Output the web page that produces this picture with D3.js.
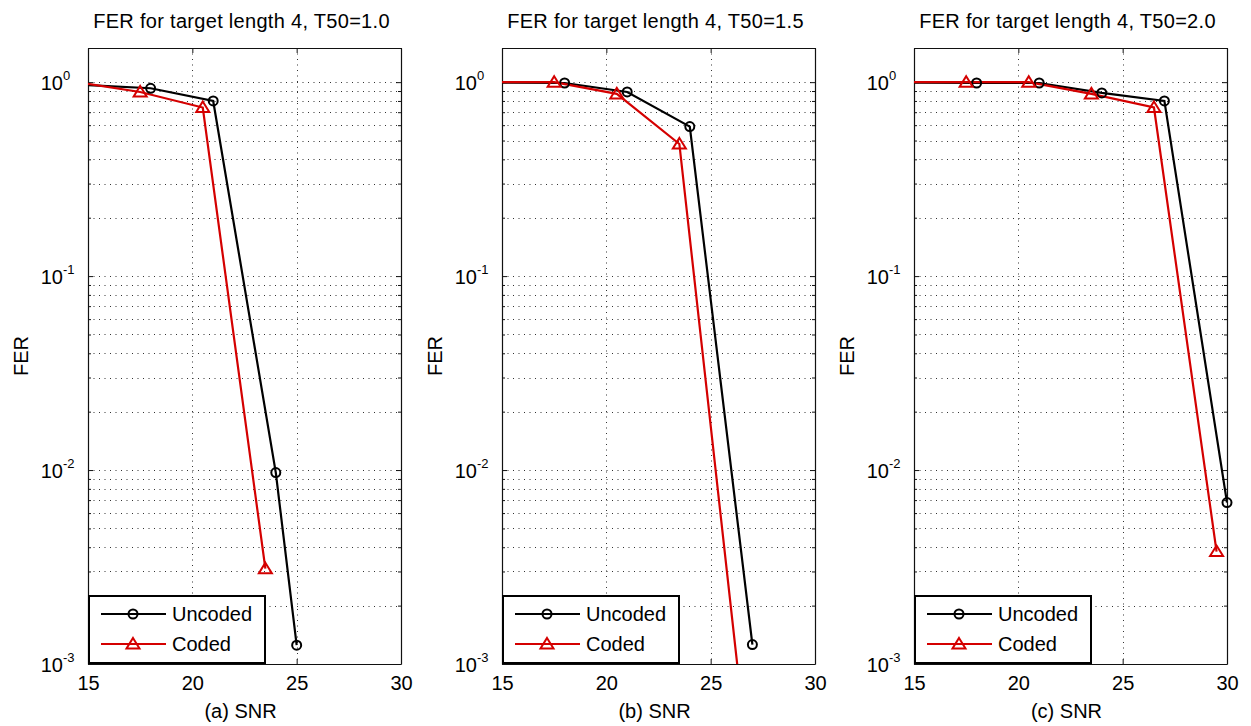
<!DOCTYPE html>
<html><head><meta charset="utf-8">
<script src="https://cdn.jsdelivr.net/npm/d3@7"></script>
<style>
body{margin:0;background:#fff}
svg{display:block;background:#fff}
text{font-family:"Liberation Sans",Arial,Helvetica,sans-serif;fill:#000}
</style>
</head><body>
<svg id="chart" width="1251" height="726"></svg>
<script>
// ---- data ----
const snrTicks = [15, 20, 25, 30];
const ferDecades = [0, -1, -2, -3];
const panelTitles = ["FER for target length 4, T50=1.0", "FER for target length 4, T50=1.5", "FER for target length 4, T50=2.0"];
const panelXLabels = ["(a) SNR", "(b) SNR", "(c) SNR"];
const yLabel = "FER";
const seriesNames = ["Uncoded", "Coded"];

const uncodedSNR_a = [12, 18, 21, 24, 25];
const uncodedFER_a = [1.0, 0.93, 0.80, 0.0097, 0.00125];
const codedSNR_a   = [14.5, 17.5, 20.5, 23.5];
const codedFER_a   = [1.0, 0.89, 0.74, 0.0031];

const uncodedSNR_b = [12, 18, 21, 24, 27];
const uncodedFER_b = [1.0, 0.99, 0.89, 0.59, 0.00126];
const codedSNR_b   = [14.5, 17.5, 20.5, 23.5, 26.5];
const codedFER_b   = [1.0, 1.0, 0.87, 0.48, 0.0006];

const uncodedSNR_c = [12, 18, 21, 24, 27, 30];
const uncodedFER_c = [1.0, 0.99, 0.99, 0.88, 0.80, 0.0068];
const codedSNR_c   = [14.5, 17.5, 20.5, 23.5, 26.5, 29.5];
const codedFER_c   = [1.0, 1.0, 1.0, 0.87, 0.74, 0.0038];

const xDomain = [15, 30];
const yDomain = [1e-3, 1.5];

// ---- layout ----
const svg = d3.select("#chart");
const plotTop = 48, plotBottom = 664;
const panelLefts = [88, 502, 914];
const panelWidth = 313;
const RED = "#d40000";

const panels = [
  {unc: d3.zip(uncodedSNR_a, uncodedFER_a), cod: d3.zip(codedSNR_a, codedFER_a)},
  {unc: d3.zip(uncodedSNR_b, uncodedFER_b), cod: d3.zip(codedSNR_b, codedFER_b)},
  {unc: d3.zip(uncodedSNR_c, uncodedFER_c), cod: d3.zip(codedSNR_c, codedFER_c)}
];

// minor/major log gridline values
const logVals = [];
for (let k = -3; k <= 0; k++) {
  for (let m = 1; m <= 9; m++) {
    const v = m * Math.pow(10, k);
    if (v >= yDomain[0] && v <= yDomain[1] + 1e-12) logVals.push(+v.toPrecision(6));
  }
}
const majorSet = new Set(ferDecades.map(e => +Math.pow(10, e).toPrecision(6)));

const triPath = "M0,-6L6.5,4.5L-6.5,4.5Z";

panels.forEach((p, i) => {
  const L = panelLefts[i], R = L + panelWidth;
  const x = d3.scaleLinear().domain(xDomain).range([L, R]);
  const y = d3.scaleLog().domain(yDomain).range([plotBottom, plotTop]);
  const g = svg.append("g");

  // clip
  svg.append("clipPath").attr("id", "clip" + i)
    .append("rect").attr("x", L).attr("y", plotTop).attr("width", R - L).attr("height", plotBottom - plotTop);

  // grid
  const grid = g.append("g").attr("stroke", "#333").attr("stroke-width", 1).attr("stroke-dasharray", "1,4.5");
  grid.selectAll("line.h").data(logVals.filter(v => v > yDomain[0])).enter().append("line")
    .attr("x1", L).attr("x2", R).attr("y1", d => Math.round(y(d)) + 0.5).attr("y2", d => Math.round(y(d)) + 0.5);
  grid.selectAll("line.v").data(snrTicks.filter(t => t > xDomain[0] && t < xDomain[1])).enter().append("line")
    .attr("y1", plotTop).attr("y2", plotBottom).attr("x1", d => Math.round(x(d)) + 0.5).attr("x2", d => Math.round(x(d)) + 0.5);

  // axes (ticks inside)
  const axB = d3.axisBottom(x).tickValues(snrTicks).tickSizeInner(-5).tickSizeOuter(0).tickPadding(12).tickFormat(d3.format("d"));
  const axT = d3.axisTop(x).tickValues(snrTicks).tickSizeInner(-5).tickSizeOuter(0).tickFormat("");
  const axL = d3.axisLeft(y).tickValues(logVals).tickSizeOuter(0).tickFormat("");
  const axR = d3.axisRight(y).tickValues(logVals).tickSizeOuter(0).tickFormat("");

  const gB = g.append("g").attr("transform", `translate(0,${plotBottom})`).call(axB);
  gB.selectAll("text").attr("font-size", 20).attr("dy", "0.71em")
    .attr("font-family", '"Liberation Sans",Arial,sans-serif').attr("fill", "#000");
  g.append("g").attr("transform", `translate(0,${plotTop})`).call(axT);
  const gL = g.append("g").attr("transform", `translate(${L},0)`).call(axL);
  const gR = g.append("g").attr("transform", `translate(${R},0)`).call(axR);
  gL.selectAll(".tick line").attr("x2", d => majorSet.has(d) ? 5 : 3);
  gR.selectAll(".tick line").attr("x2", d => majorSet.has(d) ? -5 : -3);
  g.selectAll(".domain").attr("stroke", "#111").attr("stroke-width", 1.2);
  g.selectAll(".tick line").attr("stroke", "#111");

  // y tick labels 10^k
  ferDecades.forEach(e => {
    const yy = y(Math.pow(10, e));
    g.append("text").attr("x", L - 25).attr("y", yy + 8).attr("text-anchor", "end")
      .attr("font-size", 20).text("10");
    g.append("text").attr("x", L - 25).attr("y", yy - 2).attr("font-size", 13).text(String(e));
  });

  // title
  g.append("text").attr("x", (L + R) / 2 - 3).attr("y", 28).attr("text-anchor", "middle")
    .attr("font-size", 20).attr("letter-spacing", 0.3).text(panelTitles[i]);
  // x label
  g.append("text").attr("x", (L + R) / 2 - 4).attr("y", 718).attr("text-anchor", "middle")
    .attr("font-size", 20).text(panelXLabels[i]);
  // y label
  g.append("text").attr("transform", `translate(${L - 60},${(plotTop + plotBottom) / 2}) rotate(-90)`)
    .attr("text-anchor", "middle").attr("font-size", 20).text(yLabel);

  // lines
  const line = d3.line().x(d => x(d[0])).y(d => y(d[1]));
  const inside = d => d[0] >= xDomain[0] && d[0] <= xDomain[1] && d[1] >= yDomain[0] && d[1] <= yDomain[1];
  const lg = g.append("g").attr("clip-path", `url(#clip${i})`);
  lg.append("path").datum(p.unc).attr("d", line).attr("fill", "none").attr("stroke", "#000").attr("stroke-width", 2.2);
  lg.append("path").datum(p.cod).attr("d", line).attr("fill", "none").attr("stroke", RED).attr("stroke-width", 2.2);

  g.append("g").selectAll("circle").data(p.unc.filter(inside)).enter().append("circle")
    .attr("cx", d => x(d[0])).attr("cy", d => y(d[1])).attr("r", 4.5)
    .attr("fill", "none").attr("stroke", "#000").attr("stroke-width", 2);
  g.append("g").selectAll("path").data(p.cod.filter(inside)).enter().append("path")
    .attr("transform", d => `translate(${x(d[0])},${y(d[1])})`).attr("d", triPath)
    .attr("fill", "none").attr("stroke", RED).attr("stroke-width", 2);

  // legend
  const lgd = g.append("g");
  const lw = 177, lh = 68, lx = L, ly = plotBottom - lh;
  lgd.append("rect").attr("x", lx + 1).attr("y", ly).attr("width", lw - 1).attr("height", lh - 1)
    .attr("fill", "#fff").attr("stroke", "#000").attr("stroke-width", 2);
  const rows = [{name: seriesNames[0], color: "#000", mk: "c"}, {name: seriesNames[1], color: RED, mk: "t"}];
  rows.forEach((r, j) => {
    const ry = ly + 18 + j * 30;
    lgd.append("line").attr("x1", lx + 13).attr("x2", lx + 78).attr("y1", ry).attr("y2", ry)
      .attr("stroke", r.color).attr("stroke-width", 2.2);
    if (r.mk === "c") {
      lgd.append("circle").attr("cx", lx + 45).attr("cy", ry).attr("r", 4.5)
        .attr("fill", "none").attr("stroke", r.color).attr("stroke-width", 2);
    } else {
      lgd.append("path").attr("transform", `translate(${lx + 45},${ry})`).attr("d", triPath)
        .attr("fill", "none").attr("stroke", r.color).attr("stroke-width", 2);
    }
    lgd.append("text").attr("x", lx + 84).attr("y", ry + 7).attr("font-size", 20).text(r.name);
  });
});
</script>
</body></html>
